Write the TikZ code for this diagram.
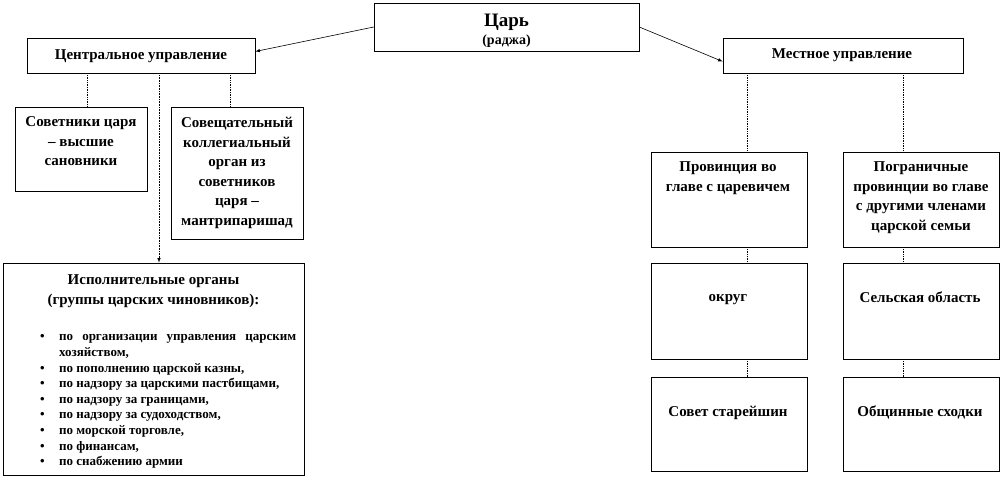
\documentclass[tikz,border=0pt]{standalone}
\usepackage{fontspec}
\setmainfont{Liberation Serif}
\usepackage{tikz}

\newcommand{\punkt}[1]{\par\hangindent=19pt\hangafter=0\noindent\hspace{-19pt}\makebox[19pt][l]{\textbullet}#1\par}

\begin{document}
\begin{tikzpicture}
[every node/.style={inner sep=0pt},
 box/.style={rectangle, draw=black, line width=0.6pt, fill=white},
 txt/.style={align=center, font=\fontsize{15}{19.5}\selectfont\bfseries},
 link/.style={densely dotted, line width=0.7pt, color=black},
 arr/.style={line width=0.6pt, ->, >=latex, color=black}]
\useasboundingbox (0pt,0pt) rectangle (1002pt,-482pt);
\node (tsar) [box, minimum width=265pt, minimum height=48pt] at (506.5pt, -27pt) {};
\node (central) [box, minimum width=228pt, minimum height=35pt] at (141pt, -55.5pt) {};
\node (mestnoe) [box, minimum width=240pt, minimum height=35pt] at (843pt, -55.5pt) {};
\node (sovetniki) [box, minimum width=132pt, minimum height=84pt] at (81pt, -149pt) {};
\node (sovet) [box, minimum width=132pt, minimum height=132pt] at (237pt, -173pt) {};
\node (ispoln) [box, minimum width=301pt, minimum height=212pt] at (153.5pt, -369pt) {};
\node (prov) [box, minimum width=156pt, minimum height=95pt] at (729pt, -199.5pt) {};
\node (pogr) [box, minimum width=156pt, minimum height=95pt] at (921pt, -199.5pt) {};
\node (okrug) [box, minimum width=156pt, minimum height=96pt] at (729pt, -311pt) {};
\node (selo) [box, minimum width=156pt, minimum height=96pt] at (921pt, -311pt) {};
\node (starejshiny) [box, minimum width=156pt, minimum height=94pt] at (729pt, -424pt) {};
\node (skhodki) [box, minimum width=156pt, minimum height=94pt] at (921pt, -424pt) {};
\draw [arr] (tsar.west) to ([yshift=4pt]central.east);
\draw [arr] (tsar.east) to ([yshift=-6pt]mestnoe.west);
\draw [arr, densely dotted] (159pt,0 |- central.south) to (159pt,0 |- ispoln.north);
\draw [link] (87pt,0 |- central.south) to (87pt,0 |- sovetniki.north);
\draw [link] (230pt,0 |- central.south) to (230pt,0 |- sovet.north);
\draw [link] (747pt,0 |- mestnoe.south) to (747pt,0 |- prov.north);
\draw [link] (747pt,0 |- prov.south) to (747pt,0 |- okrug.north);
\draw [link] (747pt,0 |- okrug.south) to (747pt,0 |- starejshiny.north);
\draw [link] (903pt,0 |- mestnoe.south) to (903pt,0 |- pogr.north);
\draw [link] (903pt,0 |- pogr.south) to (903pt,0 |- selo.north);
\draw [link] (903pt,0 |- selo.south) to (903pt,0 |- skhodki.north);
\node (tsarname) [txt, anchor=base, font=\fontsize{19}{22}\selectfont\bfseries] at (506.5pt, -26pt) {Царь};
\node (tsarsub) [txt, anchor=base, font=\fontsize{14}{17}\selectfont\bfseries] at (506.5pt, -44pt) {(раджа)};
\node (centraltext) [txt, anchor=base] at (141pt, -59pt) {Центральное управление};
\node (mestnoetext) [txt, anchor=base] at (842pt, -58pt) {Местное управление};
\node (sovetnikitext) [txt, anchor=north] at (81pt, -116.5pt) {Советники царя\\– высшие\\сановники};
\node (sovettext) [txt, anchor=north] at (237pt, -117pt) {Совещательный\\коллегиальный\\орган из\\советников\\царя –\\мантрипаришад};
\node (ispolntext) [txt, anchor=north] at (153.5pt, -274.5pt) {Исполнительные органы\\(группы царских чиновников):};
\node (ispolnlist) [anchor=north west, text width=256pt, align=justify, font=\fontsize{13}{15.6}\selectfont\bfseries] at (40pt, -325pt) {%
\punkt{\strut по организации управления царским хозяйством,}
\punkt{по пополнению царской казны,}
\punkt{по надзору за царскими пастбищами,}
\punkt{по надзору за границами,}
\punkt{по надзору за судоходством,}
\punkt{по морской торговле,}
\punkt{по финансам,}
\punkt{по снабжению армии}};
\node (provtext) [txt, anchor=north] at (728pt, -161.5pt) {Провинция во\\главе с царевичем};
\node (pogrtext) [txt, anchor=north] at (921pt, -161.5pt) {Пограничные\\провинции во главе\\с другими членами\\царской семьи};
\node (okrugtext) [txt, anchor=base] at (728pt, -301pt) {округ};
\node (selotext) [txt, anchor=base] at (920pt, -302pt) {Сельская область};
\node (starejshinytext) [txt, anchor=base] at (728pt, -416pt) {Совет старейшин};
\node (skhodkitext) [txt, anchor=base] at (920pt, -416pt) {Общинные сходки};
\end{tikzpicture}
\end{document}
